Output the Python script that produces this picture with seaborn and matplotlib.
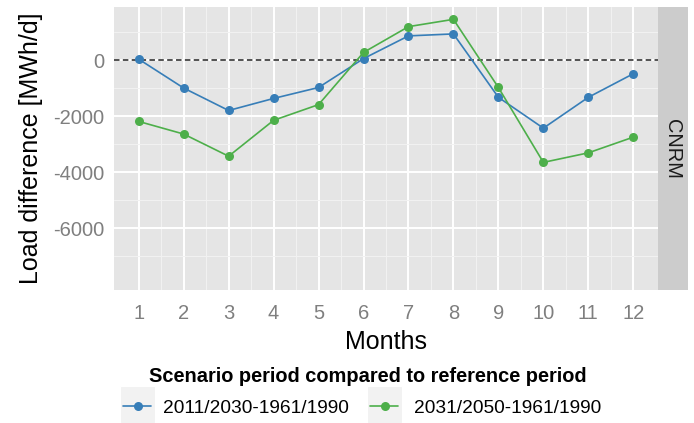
import matplotlib
matplotlib.use("Agg")
import matplotlib.pyplot as plt
from matplotlib.patches import Rectangle
from matplotlib.lines import Line2D
import numpy as np
import pandas as pd
import seaborn as sns

# ---- data ----
months = [1, 2, 3, 4, 5, 6, 7, 8, 9, 10, 11, 12]
scenario_labels = ["2011/2030-1961/1990", "2031/2050-1961/1990"]
load_2011_2030 = [30, -1000, -1800, -1370, -980, 50, 860, 930, -1330, -2430, -1330, -490]
load_2031_2050 = [-2190, -2640, -3430, -2150, -1590, 270, 1190, 1450, -980, -3650, -3310, -2750]
y_ticks = [-6000, -4000, -2000, 0]
y_minor = [-7000, -5000, -3000, -1000, 1000]
model_name = "CNRM"
colors = ["#377EB8", "#4DAF4A"]

df = pd.DataFrame({
    "Month": months * 2,
    "Load": load_2011_2030 + load_2031_2050,
    "Scenario": [scenario_labels[0]] * 12 + [scenario_labels[1]] * 12,
})

sns.set_theme(style="white")
plt.rcParams["font.family"] = ["Liberation Sans", "DejaVu Sans"]

W, H = 694, 423
fig = plt.figure(figsize=(W / 100, H / 100), dpi=100)


def fx(x):
    return x / W


def fy(y):
    return 1 - y / H


pl, pr, pt, pb = 114, 658, 7, 290
ax = fig.add_axes([fx(pl), fy(pb), fx(pr - pl), (pb - pt) / H])
ax.set_facecolor("#E5E5E5")

# grid
ax.set_xlim(0.45, 12.55)
ax.set_ylim(-8200, 1890)
ax.set_xticks(months)
ax.set_xticks(np.arange(1.5, 12, 1.0), minor=True)
ax.set_yticks(y_ticks)
ax.set_yticks(y_minor, minor=True)
ax.grid(which="major", color="white", linewidth=1.4)
ax.grid(which="minor", color="#F2F2F2", linewidth=0.7)
ax.set_axisbelow(True)
for s in ax.spines.values():
    s.set_visible(False)

ax.axhline(0, color="#222222", linewidth=1.1, dashes=(3.6, 2.2), zorder=1.5)

sns.lineplot(data=df, x="Month", y="Load", hue="Scenario", hue_order=scenario_labels,
             palette=colors, marker="o", markersize=6.5, markeredgewidth=0,
             linewidth=1.2, legend=False, ax=ax, zorder=3)

ax.tick_params(axis="both", which="major", length=5, width=0.8, color="#8C8C8C",
               labelsize=14.5, labelcolor="#7F7F7F")
ax.tick_params(axis="x", which="major", pad=5)
ax.tick_params(axis="y", which="major", pad=2)
ax.tick_params(which="minor", length=0)
ax.set_yticklabels([str(v) for v in y_ticks])

ax.set_xlabel("Months", fontsize=18, color="black", va="baseline")
ax.xaxis.set_label_coords(0.5, (pb - 349) / (pb - pt))
ax.set_ylabel("Load difference [MWh/d]", fontsize=18, color="black", va="baseline")
ax.yaxis.set_label_coords((38 - pl) / (pr - pl), 0.5)

# facet strip
sax = fig.add_axes([fx(658), fy(pb), fx(30), (pb - pt) / H])
sax.set_facecolor("#CCCCCC")
sax.set_xticks([])
sax.set_yticks([])
for s in sax.spines.values():
    s.set_visible(False)
sax.text(0.5, 0.5, model_name, rotation=-90, ha="center", va="center",
         fontsize=14.4, color="#1A1A1A", transform=sax.transAxes)

# legend
fig.text(fx(149), fy(382), "Scenario period compared to reference period",
         fontsize=14.4, fontweight="bold", color="black", ha="left", va="baseline")
key_specs = [(120, 163), (367, 414)]
for (kx, tx), c, lab in zip(key_specs, colors, scenario_labels):
    fig.patches.append(Rectangle((fx(kx), 0), fx(35), fy(386), transform=fig.transFigure,
                                 facecolor="#F2F2F2", edgecolor="white", linewidth=0.8))
    fig.lines.append(Line2D([fx(kx + 3), fx(kx + 31)], [fy(406), fy(406)],
                            transform=fig.transFigure, color=c, linewidth=1.2))
    fig.lines.append(Line2D([fx(kx + 17.5)], [fy(406)], transform=fig.transFigure,
                            color=c, marker="o", markersize=6.5, markeredgewidth=0))
    fig.text(fx(tx), fy(408), lab, fontsize=13.8, color="black", ha="left", va="center")

fig.savefig("out.png", dpi=100)
